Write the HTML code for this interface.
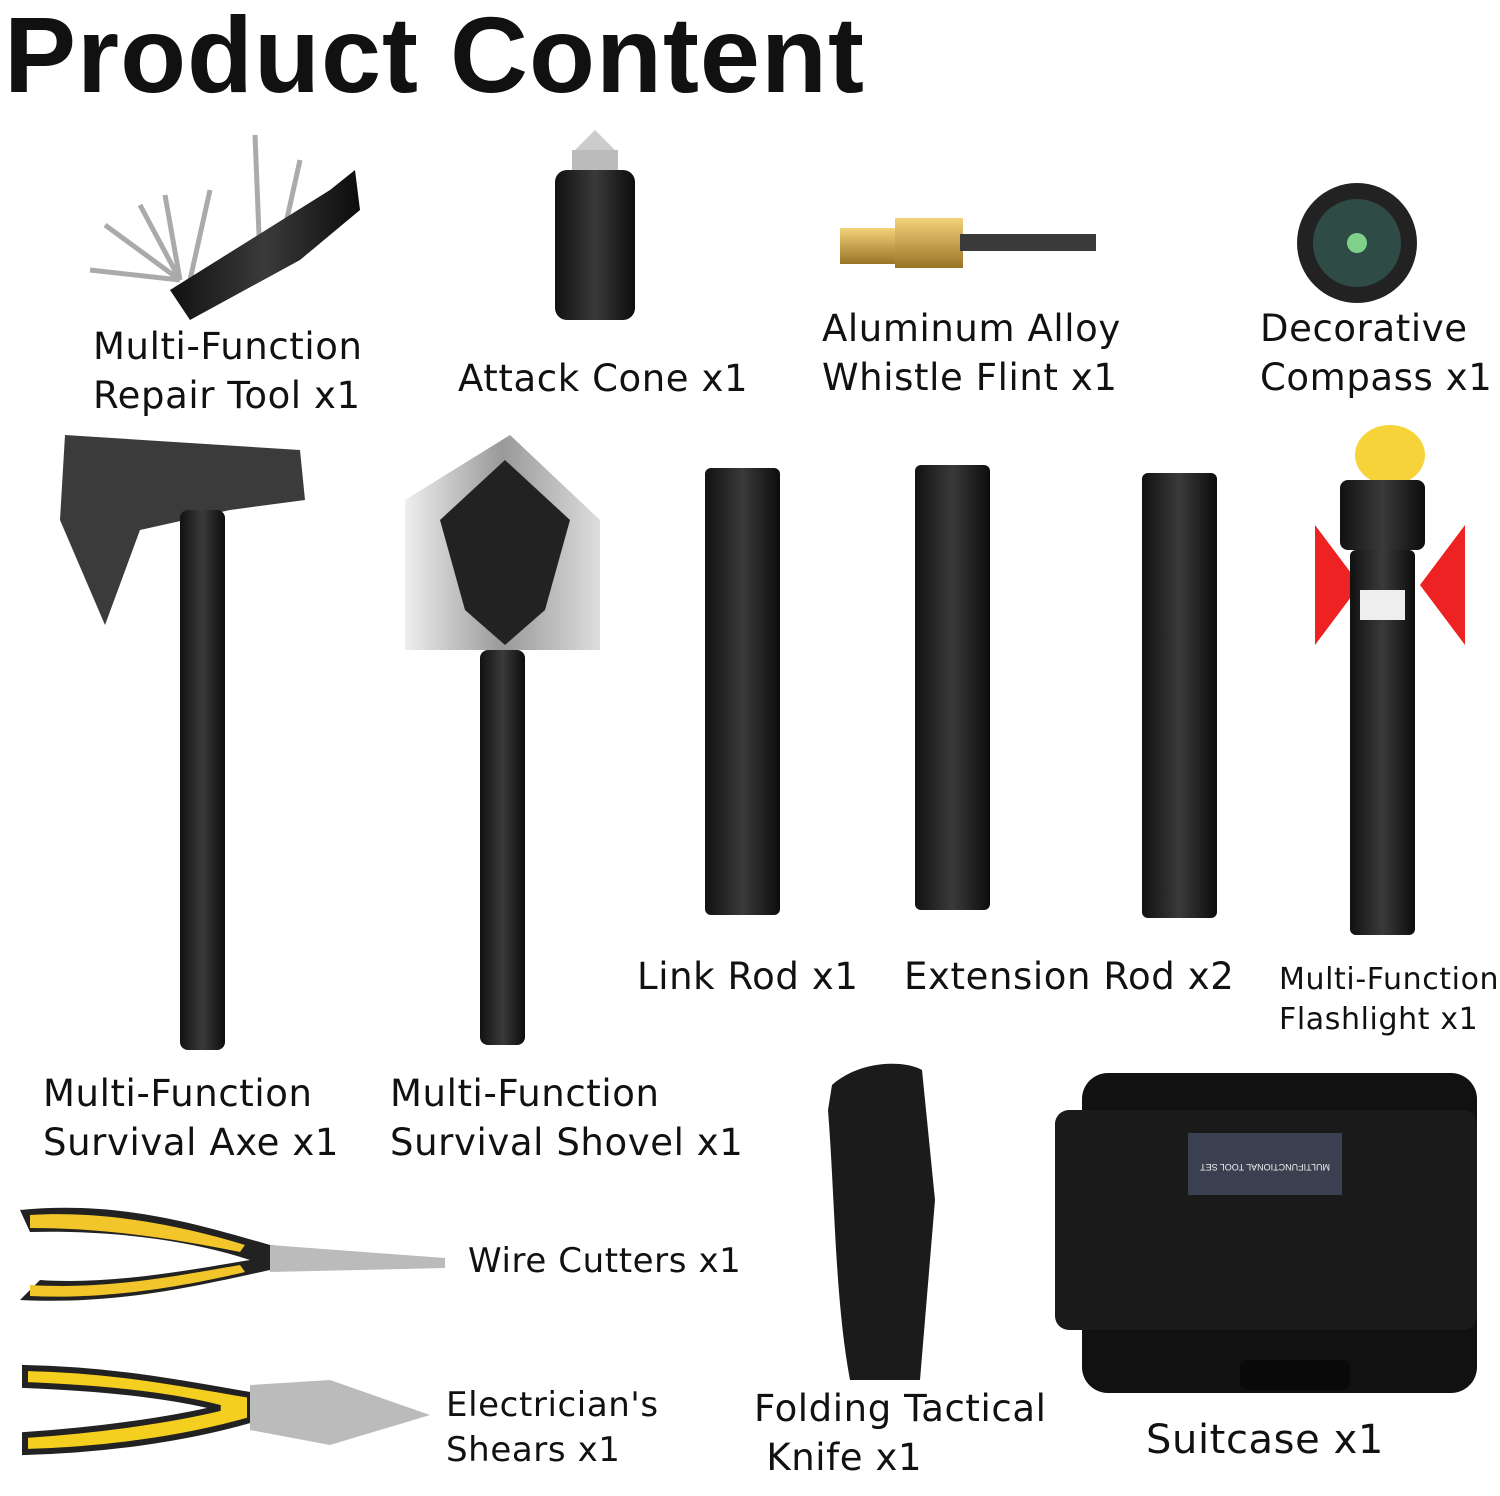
<!DOCTYPE html>
<html><head><meta charset="utf-8"><style>
html,body{margin:0;padding:0;background:#fff;}
body{width:1500px;height:1496px;position:relative;overflow:hidden;font-family:"DejaVu Sans","Liberation Sans",sans-serif;color:#111;}
.t{position:absolute;font-size:37px;line-height:49px;white-space:nowrap;letter-spacing:0.6px;}
.s{position:absolute;}
h1{position:absolute;left:4px;top:-8px;margin:0;font-family:"Liberation Sans",sans-serif;font-weight:bold;font-size:108px;letter-spacing:1px;}
</style></head><body>
<h1>Product Content</h1>

<svg class="s" style="left:0;top:0" width="1500" height="1496">
<defs>
<linearGradient id="blk" x1="0" x2="1"><stop offset="0" stop-color="#111"/><stop offset=".5" stop-color="#3a3a3a"/><stop offset="1" stop-color="#0c0c0c"/></linearGradient>
<linearGradient id="sil" x1="0" x2="1"><stop offset="0" stop-color="#eee"/><stop offset=".5" stop-color="#999"/><stop offset="1" stop-color="#ddd"/></linearGradient>
<linearGradient id="gold" x1="0" x2="0" y1="0" y2="1"><stop offset="0" stop-color="#f3d27a"/><stop offset="1" stop-color="#9a7426"/></linearGradient>
</defs>
<g stroke="#aaa" stroke-width="5">
<line x1="180" y1="280" x2="90" y2="270"/><line x1="180" y1="280" x2="105" y2="225"/><line x1="180" y1="280" x2="140" y2="205"/><line x1="180" y1="280" x2="165" y2="195"/><line x1="190" y1="280" x2="210" y2="190"/><line x1="260" y1="260" x2="255" y2="135"/><line x1="280" y1="250" x2="300" y2="160"/></g>
<polygon points="170,290 330,190 355,170 360,210 300,260 190,320" fill="url(#blk)"/>
<polygon points="575,150 595,130 615,150" fill="#ccc"/>
<rect x="572" y="150" width="46" height="20" fill="#bbb"/>
<rect x="555" y="170" width="80" height="150" rx="12" fill="url(#blk)"/>
<rect x="840" y="228" width="55" height="36" fill="url(#gold)"/>
<rect x="895" y="218" width="68" height="50" fill="url(#gold)"/>
<rect x="960" y="234" width="136" height="17" fill="#3a3a3a"/>
<circle cx="1357" cy="243" r="60" fill="#222"/>
<circle cx="1357" cy="243" r="44" fill="#2f4b45"/>
<circle cx="1357" cy="243" r="10" fill="#7fd08a"/>
<polygon points="65,435 300,450 305,500 230,510 140,530 105,625 60,520" fill="#3b3b3b"/>
<rect x="180" y="510" width="45" height="540" rx="8" fill="url(#blk)"/>
<polygon points="405,500 510,435 600,520 600,650 405,650" fill="url(#sil)"/>
<polygon points="440,520 505,460 570,520 545,610 505,645 465,610" fill="#222"/>
<rect x="480" y="650" width="45" height="395" rx="8" fill="url(#blk)"/>
<rect x="705" y="468" width="75" height="447" rx="6" fill="url(#blk)"/>
<rect x="915" y="465" width="75" height="445" rx="6" fill="url(#blk)"/>
<rect x="1142" y="473" width="75" height="445" rx="6" fill="url(#blk)"/>
<ellipse cx="1390" cy="455" rx="35" ry="30" fill="#f7d33a"/>
<polygon points="1315,525 1360,585 1315,645" fill="#e22"/>
<polygon points="1465,525 1420,585 1465,645" fill="#e22"/>
<rect x="1340" y="480" width="85" height="70" rx="8" fill="url(#blk)"/>
<rect x="1350" y="550" width="65" height="385" rx="6" fill="url(#blk)"/>
<rect x="1360" y="590" width="45" height="30" fill="#eee"/>
<path d="M20,1210 C120,1200 200,1225 270,1245 L445,1262 L270,1270 C200,1285 120,1305 20,1300 L40,1280 C110,1285 190,1270 250,1260 C190,1240 110,1230 30,1232 Z" fill="#222"/>
<path d="M30,1215 C110,1210 190,1228 245,1245 L240,1252 C180,1240 110,1228 30,1228Z M30,1285 C110,1290 180,1275 240,1265 L245,1272 C190,1285 110,1300 30,1296Z" fill="#f2c62a"/>
<polygon points="270,1245 445,1258 445,1268 270,1272" fill="#bbb"/>
<path d="M25,1368 C120,1370 190,1385 250,1395 L250,1420 C180,1440 100,1450 25,1452 L25,1435 C100,1430 170,1420 220,1408 C170,1395 100,1388 25,1385Z" fill="#f5cf1f" stroke="#222" stroke-width="6"/>
<polygon points="250,1385 330,1380 430,1415 330,1445 250,1430" fill="#bbb"/>
<path d="M832,1085 C860,1060 905,1060 922,1070 L935,1200 L920,1380 L850,1380 C835,1300 835,1200 828,1110 Z" fill="#1b1b1b"/>
<rect x="1082" y="1073" width="395" height="320" rx="26" fill="#111"/>
<rect x="1055" y="1110" width="422" height="220" rx="14" fill="#1a1a1a"/>
<rect x="1240" y="1360" width="110" height="30" rx="8" fill="#0a0a0a"/>
<rect x="1188" y="1133" width="154" height="62" fill="#3a4050"/>
<text x="1265" y="1170" font-size="9" fill="#eee" text-anchor="middle" font-family="Liberation Sans" transform="rotate(180 1265 1167)">MULTIFUNCTIONAL TOOL SET</text>
</svg>

<div class="t" style="left:93px;top:322px">Multi-Function<br>Repair Tool x1</div>
<div class="t" style="left:458px;top:354px">Attack Cone x1</div>
<div class="t" style="left:822px;top:304px">Aluminum Alloy<br>Whistle Flint x1</div>
<div class="t" style="left:1260px;top:304px">Decorative<br>Compass x1</div>
<div class="t" style="left:637px;top:952px">Link Rod x1</div>
<div class="t" style="left:904px;top:952px">Extension Rod x2</div>
<div class="t" style="left:1279px;top:960px;font-size:30px;line-height:40px">Multi-Function<br>Flashlight x1</div>
<div class="t" style="left:43px;top:1069px">Multi-Function<br>Survival Axe x1</div>
<div class="t" style="left:390px;top:1069px">Multi-Function<br>Survival Shovel x1</div>
<div class="t" style="left:468px;top:1237px;font-size:34px">Wire Cutters x1</div>
<div class="t" style="left:446px;top:1383px;font-size:34px;line-height:45px">Electrician's<br>Shears x1</div>
<div class="t" style="left:754px;top:1384px">Folding Tactical<br>&nbsp;Knife x1</div>
<div class="t" style="left:1146px;top:1416px;font-size:40px">Suitcase x1</div>
</body></html>
